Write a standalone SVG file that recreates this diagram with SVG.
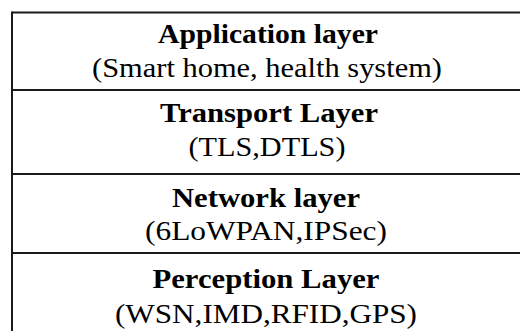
<svg xmlns="http://www.w3.org/2000/svg" width="520" height="331" viewBox="0 0 520 331">
  <style>
    .rule { stroke: #1a1a1a; stroke-width: 2; fill: none; }
    .title { font-family: "Liberation Serif", "Times New Roman", serif; font-size: 27px; font-weight: bold; fill: #000; text-anchor: middle; }
    .sub { font-family: "Liberation Serif", "Times New Roman", serif; font-size: 27px; fill: #000; text-anchor: middle; }
  </style>
  <rect width="520" height="331" fill="#fff"/>

  <!-- table frame -->
  <g id="frame">
    <line class="rule" x1="12" y1="12.5" x2="520" y2="12.5"/>
    <line class="rule" x1="12" y1="11.5" x2="12" y2="331"/>
    <line class="rule" x1="12" y1="90" x2="520" y2="90"/>
    <line class="rule" x1="12" y1="174" x2="520" y2="174"/>
    <line class="rule" x1="12" y1="253" x2="520" y2="253"/>
  </g>

  <g id="application-layer">
    <text class="title" x="268" y="43" textLength="220" lengthAdjust="spacingAndGlyphs">Application layer</text>
    <text class="sub" x="267" y="77" textLength="350" lengthAdjust="spacingAndGlyphs">(Smart home, health system)</text>
  </g>

  <g id="transport-layer">
    <text class="title" x="269" y="122" textLength="218" lengthAdjust="spacingAndGlyphs">Transport Layer</text>
    <text class="sub" x="267" y="156" textLength="157" lengthAdjust="spacingAndGlyphs">(TLS,DTLS)</text>
  </g>

  <g id="network-layer">
    <text class="title" x="266" y="207" textLength="188" lengthAdjust="spacingAndGlyphs">Network layer</text>
    <text class="sub" x="266" y="240" textLength="242" lengthAdjust="spacingAndGlyphs">(6LoWPAN,IPSec)</text>
  </g>

  <g id="perception-layer">
    <text class="title" x="266" y="288" textLength="227" lengthAdjust="spacingAndGlyphs">Perception Layer</text>
    <text class="sub" x="266" y="323" textLength="302" lengthAdjust="spacingAndGlyphs">(WSN,IMD,RFID,GPS)</text>
  </g>

  <g id="connectors"></g>
</svg>
